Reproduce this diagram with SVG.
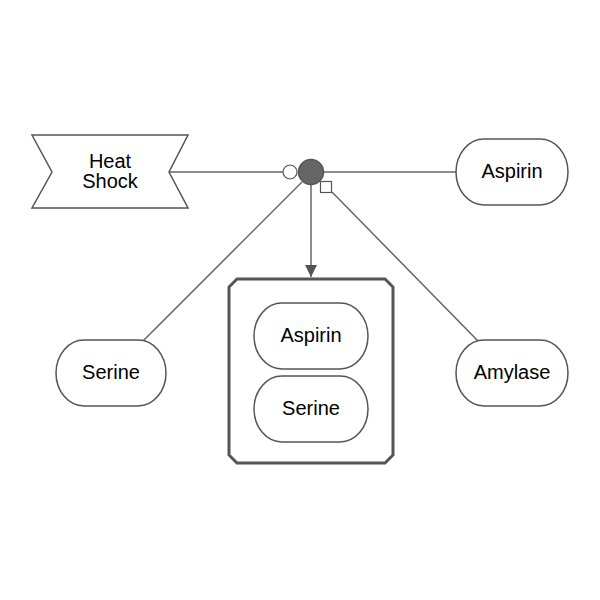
<svg xmlns="http://www.w3.org/2000/svg" width="600" height="600" viewBox="0 0 600 600">
<defs>
<style>
.node{fill:#fff;stroke:#555;stroke-width:1.5}
.lbl{font-family:"Liberation Sans",Arial,sans-serif;font-size:20px;fill:#000;text-anchor:middle;dominant-baseline:central}
.edge{stroke:#666;stroke-width:1.5;fill:none}
</style>
<marker id="arrow" viewBox="0 0 12 12" refX="12" refY="6" markerWidth="12" markerHeight="12" markerUnits="userSpaceOnUse" orient="auto">
<path d="M0,0 L12,6 L0,12 Z" fill="#555"/>
</marker>
</defs>
<rect width="600" height="600" fill="#fff"/>
<g id="connectors">
<line class="edge" x1="169" y1="172" x2="283" y2="172"/>
<line class="edge" x1="324" y1="172" x2="456" y2="172"/>
<line class="edge" x1="302" y1="182" x2="143" y2="341"/>
<line class="edge" x1="332" y1="192" x2="478" y2="341"/>
<line class="edge" x1="311" y1="185" x2="311" y2="277" marker-end="url(#arrow)"/>
<circle cx="290" cy="172" r="7" fill="#fff" stroke="#555" stroke-width="1.2"/>
<rect x="320.5" y="181.5" width="11" height="11" fill="#fff" stroke="#555" stroke-width="1.2"/>
</g>
<g id="process">
<circle cx="311" cy="172" r="12.5" fill="#666" stroke="#555" stroke-width="1.5"/>
</g>
<g id="heatshock">
<path class="node" d="M32,135 L188,135 L169,172 L188,208 L32,208 L52,172 Z"/>
<text class="lbl" x="110" y="161">Heat</text>
<text class="lbl" x="110" y="181">Shock</text>
</g>
<g id="aspirin">
<rect class="node" x="456" y="139" width="112" height="66" rx="28" ry="33"/>
<text class="lbl" x="512" y="171">Aspirin</text>
</g>
<g id="serine">
<rect class="node" x="56" y="340" width="110" height="66" rx="28" ry="33"/>
<text class="lbl" x="111" y="372">Serine</text>
</g>
<g id="amylase">
<rect class="node" x="456" y="340" width="112" height="66" rx="28" ry="33"/>
<text class="lbl" x="512" y="372">Amylase</text>
</g>
<g id="complex">
<path d="M237,279 L385,279 L393,287 L393,455 L385,463 L237,463 L229,455 L229,287 Z" fill="#fff" stroke="#555" stroke-width="3"/>
<g id="complex-aspirin">
<rect class="node" x="254" y="303" width="114" height="66" rx="28" ry="33"/>
<text class="lbl" x="311" y="335">Aspirin</text>
</g>
<g id="complex-serine">
<rect class="node" x="254" y="376" width="114" height="66" rx="28" ry="33"/>
<text class="lbl" x="311" y="408">Serine</text>
</g>
</g>
</svg>
